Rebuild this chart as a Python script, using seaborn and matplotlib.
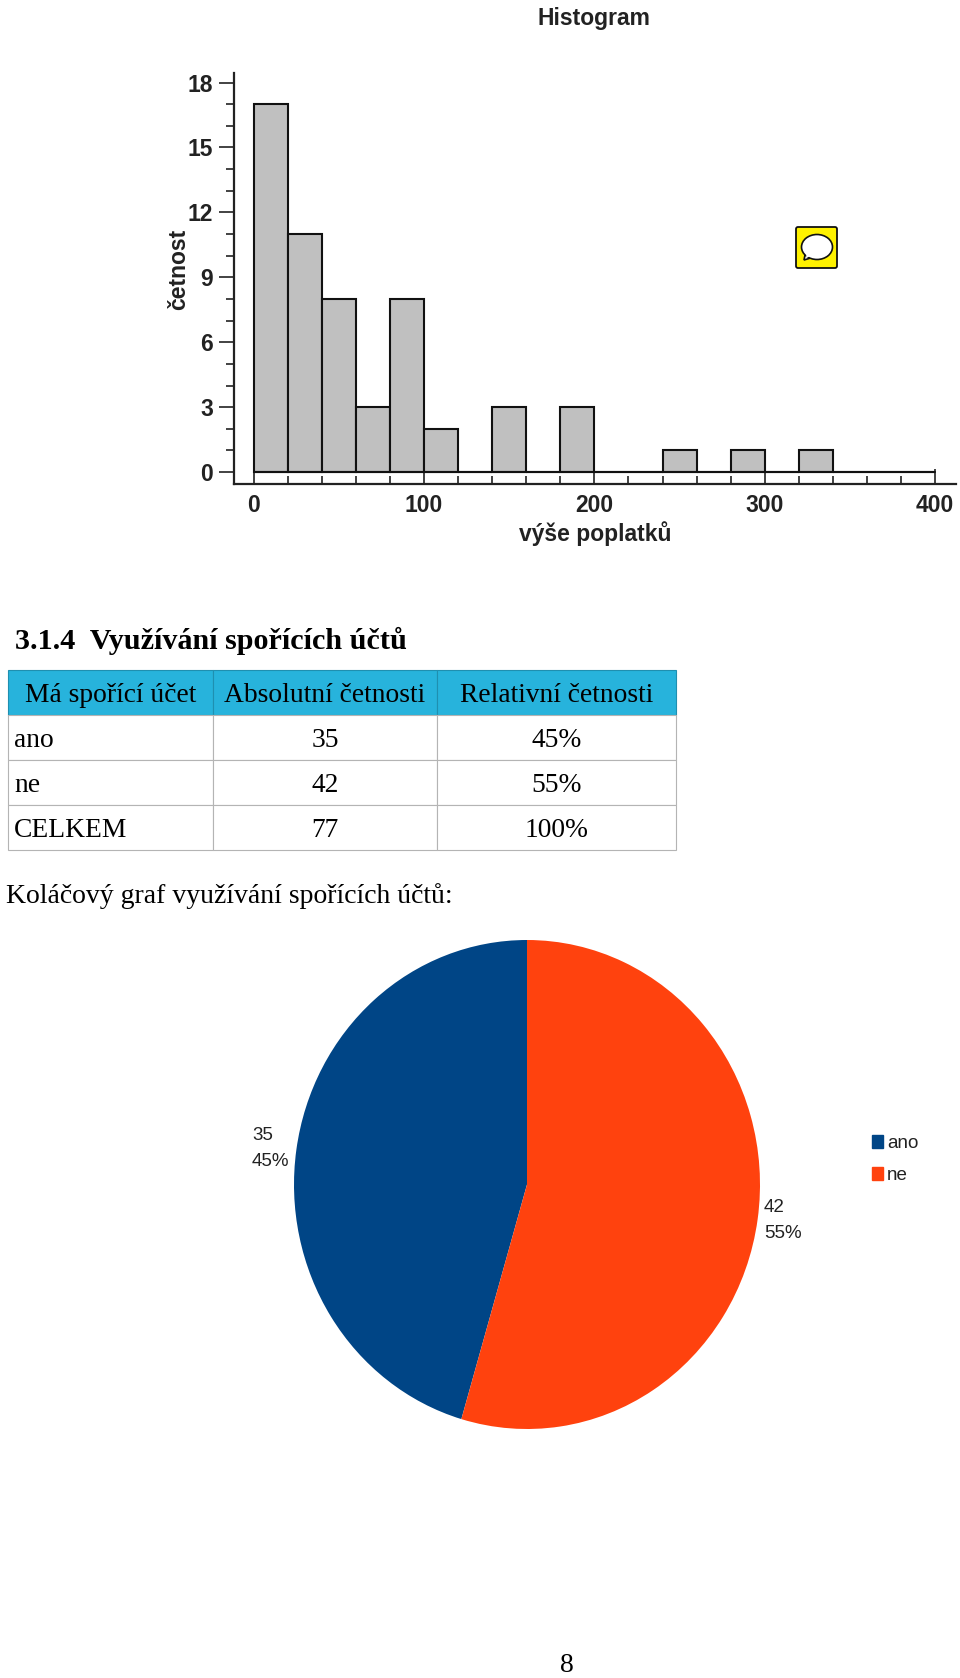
import matplotlib
matplotlib.use('Agg')
import numpy as np
import seaborn as sns
import matplotlib.pyplot as plt
from matplotlib.patches import Ellipse, FancyBboxPatch, Polygon, Patch

sns.set_theme(style="white")

SANS = ['Liberation Sans', 'DejaVu Sans']
SERIF = ['Liberation Serif', 'DejaVu Serif']

W, H = 960, 1678

# histogram
bin_edges = [0, 20, 40, 60, 80, 100, 120, 140, 160, 180, 200, 220, 240, 260, 280, 300, 320, 340, 360, 380, 400]
bin_counts = [17, 11, 8, 3, 8, 2, 0, 3, 0, 3, 0, 0, 1, 0, 1, 0, 1, 0, 0, 0]
hist_title = 'Histogram'
hist_xlabel = 'výše poplatků'
hist_ylabel = 'četnost'

# table
heading = '3.1.4  Využívání spořících účtů'
table_cols = ['Má spořící účet', 'Absolutní četnosti', 'Relativní četnosti']
row_names = ['ano', 'ne', 'CELKEM']
abs_counts = ['35', '42', '77']
rel_counts = ['45%', '55%', '100%']

# pie
pie_title = 'Koláčový graf využívání spořících účtů:'
pie_names = ['ano', 'ne']
pie_values = [35, 42]
pie_pct = ['45%', '55%']
pie_colors = ['#004586', '#FF420E']
page_no = '8'


def add_axes(left, top, right, bottom):
    return fig.add_axes([left / W, 1 - bottom / H, (right - left) / W, (bottom - top) / H])


fig = plt.figure(figsize=(W / 100, H / 100), dpi=100, facecolor='white')

# page layer, in pixels
page = add_axes(0, 0, W, H)
page.set_xlim(0, W)
page.set_ylim(H, 0)
page.axis('off')

# histogram
ax = add_axes(234, 73, 956, 484)
ax.patch.set_alpha(0)
mids = (np.array(bin_edges[:-1]) + np.array(bin_edges[1:])) / 2
sns.histplot(x=mids, weights=bin_counts, bins=bin_edges, color='#C0C0C0', edgecolor='#111111',
             linewidth=1.5, alpha=1, ax=ax)
ax.plot([0, 400], [0, 0], color='#111111', lw=1.5)
ax.set_xlim(-11.6, 412.3)
ax.set_ylim(-0.55, 18.44)
sns.despine(ax=ax)
for s in ['left', 'bottom']:
    ax.spines[s].set_linewidth(1.6)
    ax.spines[s].set_color('#222222')
ax.set_xticks([0, 100, 200, 300, 400])
ax.set_xticks(bin_edges, minor=True)
ax.set_yticks(range(0, 19, 3))
ax.set_yticks(range(0, 19), minor=True)
ax.tick_params(axis='x', which='major', direction='in', length=11, width=1.2, color='#222222', bottom=True, pad=7)
ax.tick_params(axis='x', which='minor', direction='in', length=6, width=1.2, color='#222222', bottom=True)
ax.tick_params(axis='y', which='major', direction='out', length=11, width=1.2, color='#222222', left=True, pad=4)
ax.tick_params(axis='y', which='minor', direction='out', length=6, width=1.2, color='#222222', left=True)
for t in ax.get_xticklabels() + ax.get_yticklabels():
    t.set_family(SANS)
    t.set_fontweight('bold')
    t.set_fontsize(16.5)
    t.set_color('#222222')
ax.set_xlabel(hist_xlabel, family=SANS, fontweight='bold', fontsize=16.5, color='#222222', labelpad=3)
ax.set_ylabel(hist_ylabel, family=SANS, fontweight='bold', fontsize=16.5, color='#222222')
ax.yaxis.set_label_coords(-0.061, 0.523)

page.text(594, 18, hist_title, family=SANS, fontweight='bold', fontsize=16.5, color='#222222',
          ha='center', va='center')

# comment icon
page.add_patch(FancyBboxPatch((796, 227), 41, 41, boxstyle='round,pad=0,rounding_size=2',
                              fc='#FFF200', ec='#111111', lw=1.3))
page.add_patch(Polygon([(804, 260), (806, 250), (814, 257)], fc='white', ec='#111111', lw=1.2))
page.add_patch(Ellipse((817, 247), 31, 25, fc='white', ec='#111111', lw=1.2))
page.add_patch(Polygon([(806, 258), (807, 250), (813, 255)], fc='white', ec='none'))

# section heading and table
page.text(15, 641, heading, family=SERIF, fontweight='bold', fontsize=21.7, color='black', ha='left', va='center')

tab = add_axes(8, 670, 676, 850)
tab.axis('off')
cells = [[n, a, r] for n, a, r in zip(row_names, abs_counts, rel_counts)]
table = tab.table(cellText=cells, colLabels=table_cols, colWidths=[205 / 668, 224 / 668, 239 / 668],
                  bbox=[0, 0, 1, 1], cellLoc='center')
table.auto_set_font_size(False)
for (r, c), cell in table.get_celld().items():
    cell.set_edgecolor('#B4B4B4')
    cell.set_linewidth(0.8)
    cell.get_text().set_family(SERIF)
    cell.get_text().set_fontsize(19.8)
    cell.get_text().set_color('black')
    cell.get_text().set_verticalalignment('center_baseline')
    if r == 0:
        cell.set_facecolor('#27B3DC')
        cell.set_edgecolor('#1F8FB0')
    elif c == 0:
        cell.get_text().set_ha('left')
        cell.PAD = 0.03

page.text(6.5, 896, pie_title, family=SERIF, fontsize=20, color='black', ha='left', va='center')

# pie, stretched taller than wide like the reference
pie_ax = add_axes(294, 940, 760, 1429)
pie_ax.pie(pie_values, colors=pie_colors, startangle=90, counterclock=True, radius=1,
           wedgeprops={'linewidth': 0})
pie_ax.set_aspect('auto')
pie_ax.set_xlim(-1, 1)
pie_ax.set_ylim(-1, 1)

page.text(252, 1136, pie_values[0], family=SANS, fontsize=13.5, color='#222222', ha='left', va='center')
page.text(252, 1161, pie_pct[0], family=SANS, fontsize=13.5, color='#222222', ha='left', va='center')
page.text(764, 1208, pie_values[1], family=SANS, fontsize=13.5, color='#222222', ha='left', va='center')
page.text(764, 1233, pie_pct[1], family=SANS, fontsize=13.5, color='#222222', ha='left', va='center')

handles = [Patch(color=c, label=n) for c, n in zip(pie_colors, pie_names)]
page.legend(handles=handles, loc='upper left', bbox_to_anchor=(872, 1135), bbox_transform=page.transData,
            frameon=False, handlelength=0.6, handleheight=0.7, handletextpad=0.2, labelspacing=0.8,
            borderpad=0, borderaxespad=0, prop={'family': SANS, 'size': 13.5}, labelcolor='#222222')

page.text(567, 1665, page_no, family=SERIF, fontsize=20, color='black', ha='center', va='center')

fig.savefig('out.png', dpi=100)
